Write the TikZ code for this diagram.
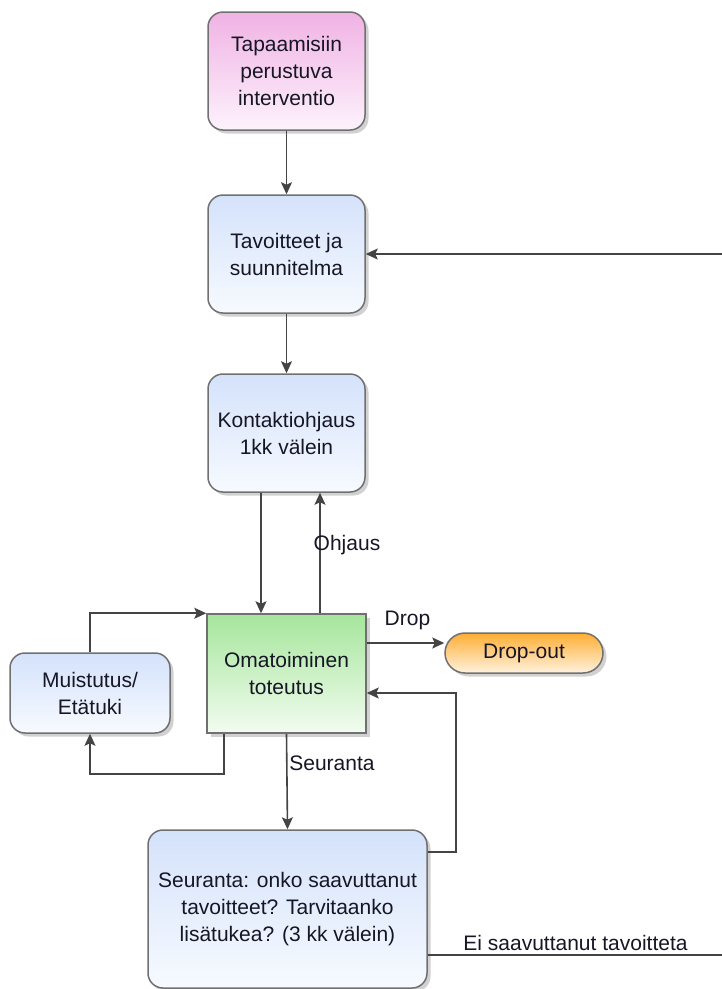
\documentclass[tikz,border=0pt]{standalone}
\usepackage{fontspec}
\setmainfont{Liberation Sans}
\usetikzlibrary{arrows.meta,shadows}

\definecolor{edgegray}{RGB}{112,112,112}
\definecolor{linegray}{RGB}{68,68,68}
\definecolor{txt}{RGB}{22,22,36}
\definecolor{pinktop}{RGB}{240,178,228}
\definecolor{pinkbot}{RGB}{253,242,252}
\definecolor{bluetop}{RGB}{212,226,251}
\definecolor{bluebot}{RGB}{247,250,255}
\definecolor{greentop}{RGB}{166,230,156}
\definecolor{greenbot}{RGB}{242,252,240}
\definecolor{orangetop}{RGB}{255,174,52}
\definecolor{orangebot}{RGB}{255,242,222}

\tikzset{
  base/.style={draw=edgegray, line width=1.5pt, align=center, text=txt,
    font=\fontsize{21}{27}\selectfont, inner sep=4pt,
    drop shadow={shadow xshift=3.5pt, shadow yshift=-3.5pt, opacity=0.3, fill=black!60}},
  roundbox/.style={base, rounded corners=15pt, shading=axis, shading angle=0},
  pinkbox/.style={roundbox, top color=pinktop, bottom color=pinkbot},
  bluebox/.style={roundbox, top color=bluetop, bottom color=bluebot},
  greenbox/.style={base, shading=axis, top color=greentop, bottom color=greenbot},
  pillbox/.style={base, rounded corners=20pt, shading=axis, top color=orangetop, bottom color=orangebot},
  arr/.style={draw=linegray, line width=1.6pt, -{Stealth[length=12pt,width=11pt,inset=2.5pt]}},
  lbl/.style={text=txt, font=\fontsize{21}{27}\selectfont, inner sep=0pt}
}

\begin{document}
\begin{tikzpicture}[x=1pt,y=-1pt]
  \useasboundingbox (0,0) rectangle (721,989);

  % process steps
  \node[pinkbox, minimum width=157pt, minimum height=118pt] (tap) at (286.5,71)
    {Tapaamisiin\\perustuva\\interventio};
  \node[bluebox, minimum width=157pt, minimum height=118pt] (tav) at (286.5,254)
    {Tavoitteet ja\\suunnitelma};
  \node[bluebox, minimum width=157pt, minimum height=118pt] (kon) at (286.5,433)
    {Kontaktiohjaus\\1kk välein};
  \node[greenbox, minimum width=159pt, minimum height=119pt] (oma) at (286.5,673.5)
    {Omatoiminen\\toteutus};
  \node[bluebox, minimum width=160pt, minimum height=80pt] (mui) at (90,693)
    {Muistutus/\\Etätuki};
  \node[pillbox, minimum width=158pt, minimum height=40pt] (drop) at (524,653)
    {Drop-out};
  \node[bluebox, minimum width=279pt, minimum height=158pt] (seu) at (287.5,909)
    {Seuranta: onko saavuttanut\\tavoitteet? Tarvitaanko\\lisätukea? (3 kk välein)};

  % return path runs just past the right border
  \coordinate (rim) at (735,0);

  % main flow
  \draw[arr] (tap.south) -- (tav.north);
  \draw[arr] (tav.south) -- (kon.north);
  \draw[arr] ([xshift=-25.5pt]kon.south) -- ([xshift=-25.5pt]oma.north);
  \draw[arr] ([xshift=33.5pt]oma.north) -- ([xshift=33.5pt]kon.south);
  \node[lbl] (lohj) at (347,545) {Ohjaus};

  \draw[arr] ([yshift=30.5pt]oma.east) -- ([yshift=30.5pt]oma.east -| drop.west);
  \node[lbl] (ldrop) at (407.5,620) {Drop};

  \draw[arr] (oma.south) -- (seu.north);
  \node[lbl] (lseu) at (332,763) {Seuranta};

  % reminder loop
  \draw[arr] ([xshift=-62.5pt]oma.south) -- ++(0,40) -| (mui.south);
  \draw[arr] (mui.north) |- (oma.north west);

  % follow-up feedback
  \draw[arr] ([yshift=57pt]seu.east) -- ++(28pt,0) |- ([yshift=-19.5pt]oma.east);
  \draw[arr] ([yshift=-46pt]seu.east) -- ([yshift=-46pt]seu.east -| rim)
    -- (rim |- tav.east) -- (tav.east);
  \node[lbl] (lei) at (575.5,943) {Ei saavuttanut tavoitteta};
\end{tikzpicture}
\end{document}
